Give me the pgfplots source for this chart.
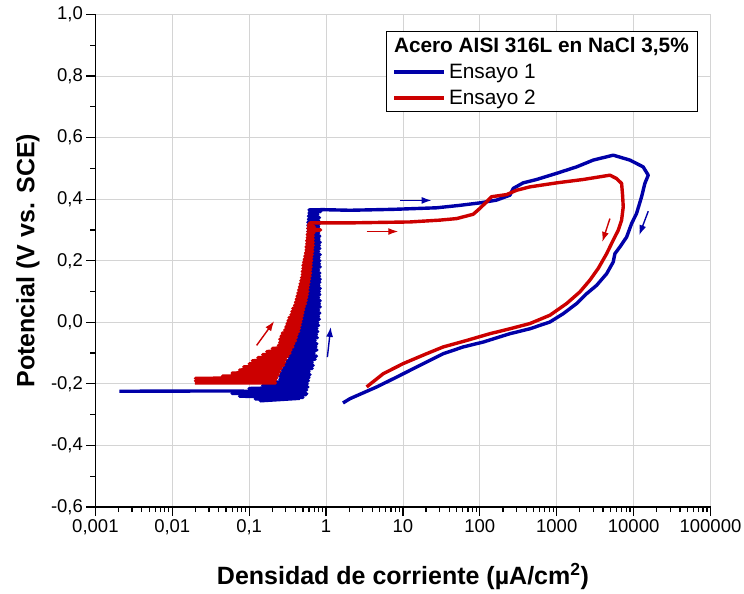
\documentclass[border=0pt]{standalone}
\usepackage{fontspec}
\setmainfont{Liberation Sans}
\usepackage{pgfplots}
\pgfplotsset{compat=1.18}
\usetikzlibrary{arrows.meta}
\definecolor{cblue}{RGB}{0,0,168}
\definecolor{cred}{RGB}{204,0,0}
\definecolor{cgrid}{RGB}{212,212,212}
\begin{document}
\begin{tikzpicture}
\begin{axis}[
  scale only axis, width=615.1pt, height=492.5pt,
  xmode=log, xmin=0.001, xmax=100000, ymin=-0.6, ymax=1.0,
  axis x line*=bottom, axis y line*=left,
  axis line style={line width=1.6pt, -},
  xtick={0.001,0.01,0.1,1,10,100,1000,10000,100000},
  xticklabels={{0,001},{0,01},{0,1},1,10,100,1000,10000,100000},
  minor xtick={0.002,0.003,0.004,0.005,0.006,0.007,0.008,0.009,
    0.02,0.03,0.04,0.05,0.06,0.07,0.08,0.09,
    0.2,0.3,0.4,0.5,0.6,0.7,0.8,0.9,
    2,3,4,5,6,7,8,9,20,30,40,50,60,70,80,90,
    200,300,400,500,600,700,800,900,2000,3000,4000,5000,6000,7000,8000,9000,
    20000,30000,40000,50000,60000,70000,80000,90000},
  ytick={-0.6,-0.4,-0.2,0,0.2,0.4,0.6,0.8,1.0},
  yticklabels={{-0,6},{-0,4},{-0,2},{0,0},{0,2},{0,4},{0,6},{0,8},{1,0}},
  minor ytick={-0.5,-0.3,-0.1,0.1,0.3,0.5,0.7,0.9},
  tick align=outside,
  major tick length=9pt, minor tick length=5pt,
  every tick/.style={black, line width=1.2pt},
  xmajorgrids, ymajorgrids,
  major grid style={cgrid, line width=0.9pt},
  ticklabel style={font=\fontsize{18.5}{22}\selectfont},
  xlabel={Densidad de corriente (µA/cm\textsuperscript{2})},
  ylabel={Potencial (V vs. SCE)},
  label style={font=\fontsize{25}{30}\selectfont\bfseries},
  xlabel style={at={(axis description cs:0.5,-0.142)}, anchor=center},
  ylabel style={at={(axis description cs:-0.1096,0.5)}, anchor=center},
  legend style={at={(0.98,0.9665)}, anchor=north east, draw=black, line width=0.8pt,
    font=\fontsize{20.8}{24}\selectfont, inner xsep=6pt, inner ysep=4pt, row sep=6pt,
    nodes={inner xsep=3pt}},
  legend cell align=left,
  legend image code/.code={\draw[#1, line width=3.6pt] (0pt,0pt) -- (50pt,0pt);},
]
\coordinate (bl) at (rel axis cs:0,0);
\coordinate (tr) at (rel axis cs:1,1);
\addlegendimage{empty legend}
\addlegendentry{\hspace{-55pt}\textbf{Acero AISI 316L en NaCl 3,5\%}}
% Ensayo 1
\addplot[cblue, line width=3.4pt, line join=round] coordinates {
(0.00205,-0.224) (0.045,-0.223) (0.50,-0.226) (0.06,-0.231) (0.55,-0.235)
(0.075,-0.240) (0.50,-0.244) (0.12,-0.249) (0.45,-0.247) (0.14,-0.255)
(0.30,-0.243) (0.56,-0.232) (0.08,-0.228) (0.56,-0.220) (0.10,-0.215)
(0.58,-0.210) (0.15,-0.205) (0.57,-0.200) (0.20,-0.195) (0.59,-0.190)
(0.25,-0.185) (0.60,-0.180) (0.25,-0.175) (0.62,-0.170) (0.26,-0.165)
(0.60,-0.160) (0.27,-0.155) (0.66,-0.150) (0.28,-0.145) (0.68,-0.140)
(0.29,-0.135) (0.66,-0.130) (0.31,-0.125) (0.72,-0.120) (0.33,-0.115)
(0.75,-0.110) (0.34,-0.105) (0.70,-0.100) (0.36,-0.095) (0.76,-0.090)
(0.37,-0.085) (0.74,-0.080) (0.39,-0.075) (0.76,-0.070) (0.40,-0.065)
(0.72,-0.060) (0.41,-0.055) (0.77,-0.050) (0.42,-0.045) (0.75,-0.040)
(0.44,-0.035) (0.78,-0.030) (0.45,-0.025) (0.76,-0.020) (0.45,-0.015)
(0.80,-0.010) (0.46,-0.005) (0.78,0.000) (0.47,0.005) (0.82,0.010)
(0.48,0.015) (0.80,0.020) (0.49,0.025) (0.83,0.030) (0.50,0.035)
(0.80,0.040) (0.50,0.045) (0.84,0.050) (0.51,0.055) (0.82,0.060)
(0.51,0.065) (0.84,0.070) (0.52,0.075) (0.80,0.080) (0.52,0.085)
(0.83,0.090) (0.53,0.095) (0.82,0.100) (0.53,0.105) (0.84,0.110)
(0.54,0.115) (0.81,0.120) (0.54,0.125) (0.83,0.130) (0.55,0.135)
(0.84,0.140) (0.55,0.145) (0.82,0.150) (0.55,0.155) (0.83,0.160)
(0.56,0.165) (0.80,0.170) (0.56,0.175) (0.84,0.180) (0.56,0.185)
(0.82,0.190) (0.56,0.195) (0.83,0.200) (0.57,0.205) (0.81,0.210)
(0.57,0.215) (0.84,0.220) (0.57,0.225) (0.80,0.230) (0.57,0.235)
(0.83,0.240) (0.57,0.245) (0.82,0.250) (0.58,0.255) (0.84,0.260)
(0.58,0.265) (0.81,0.270) (0.58,0.275) (0.83,0.280) (0.58,0.285)
(0.80,0.290) (0.58,0.295) (0.82,0.300) (0.58,0.305) (0.80,0.310)
(0.58,0.315) (0.82,0.320) (0.58,0.325) (0.80,0.330) (0.59,0.335)
(0.82,0.340) (0.59,0.345) (0.78,0.350) (0.60,0.355) (0.85,0.360)
(0.60,0.365) (0.9,0.366) (2.05,0.364) (7.48,0.367) (27.4,0.372)
(55.1,0.380) (100,0.388) (165,0.397) (246,0.413) (272,0.435)
(366,0.453) (548,0.464) (997,0.484) (1815,0.505) (2985,0.527)
(5430,0.543) (8950,0.527) (13300,0.505) (15500,0.478) (14000,0.451)
(12700,0.408) (10900,0.353) (9420,0.321) (8110,0.277) (6640,0.245)
(5710,0.223) (5430,0.196) (4460,0.158) (3300,0.120) (2450,0.093)
(1815,0.061) (1215,0.028) (815,0.001) (448,-0.021) (246,-0.037)
(111,-0.064) (60.8,-0.080) (33.4,-0.102) (15.1,-0.145) (8.28,-0.178)
(4.55,-0.210) (2.05,-0.248) (1.66,-0.262)
};
\addlegendentry{Ensayo 1}
% Ensayo 2
\addplot[cred, line width=3.4pt, line join=round] coordinates {
(0.0197,-0.197) (0.22,-0.197) (0.020,-0.190) (0.22,-0.188) (0.020,-0.182)
(0.23,-0.180) (0.045,-0.175) (0.24,-0.170) (0.060,-0.165) (0.25,-0.160)
(0.075,-0.155) (0.26,-0.150) (0.085,-0.145) (0.28,-0.140) (0.10,-0.135)
(0.29,-0.130) (0.11,-0.125) (0.30,-0.120) (0.13,-0.115) (0.32,-0.110)
(0.15,-0.105) (0.34,-0.100) (0.17,-0.095) (0.35,-0.090) (0.20,-0.085)
(0.37,-0.080) (0.24,-0.075) (0.38,-0.070) (0.25,-0.065) (0.40,-0.060)
(0.25,-0.055) (0.41,-0.050) (0.26,-0.045) (0.42,-0.040) (0.27,-0.035)
(0.44,-0.030) (0.29,-0.025) (0.45,-0.020) (0.30,-0.015) (0.46,-0.010)
(0.31,-0.005) (0.47,0.000) (0.32,0.005) (0.48,0.010) (0.33,0.015)
(0.49,0.020) (0.35,0.025) (0.50,0.030) (0.36,0.035) (0.51,0.040)
(0.37,0.045) (0.52,0.050) (0.39,0.055) (0.54,0.060) (0.40,0.065)
(0.55,0.070) (0.41,0.075) (0.56,0.080) (0.42,0.085) (0.57,0.090)
(0.43,0.095) (0.58,0.100) (0.44,0.105) (0.58,0.110) (0.45,0.115)
(0.59,0.120) (0.46,0.125) (0.60,0.130) (0.47,0.135) (0.61,0.140)
(0.48,0.145) (0.62,0.150) (0.49,0.155) (0.63,0.160) (0.49,0.165)
(0.63,0.170) (0.50,0.175) (0.64,0.180) (0.50,0.185) (0.64,0.190)
(0.51,0.195) (0.65,0.200) (0.52,0.205) (0.65,0.210) (0.53,0.215)
(0.66,0.220) (0.54,0.225) (0.67,0.230) (0.55,0.235) (0.67,0.240)
(0.55,0.245) (0.68,0.250) (0.56,0.255) (0.68,0.260) (0.56,0.265)
(0.68,0.270) (0.57,0.275) (0.68,0.280) (0.57,0.285) (0.69,0.290)
(0.58,0.295) (0.85,0.300) (0.58,0.305) (0.70,0.310) (0.59,0.315)
(0.62,0.323) (2.05,0.323) (12.3,0.326) (30.3,0.332) (49.9,0.337)
(82,0.351) (100,0.370) (122,0.391) (142,0.408) (223,0.415)
(301,0.429) (448,0.440) (997,0.453) (2210,0.464) (4920,0.478)
(6010,0.467) (6980,0.451) (7190,0.413) (7330,0.375) (6980,0.332)
(6310,0.299) (5430,0.267) (4460,0.223) (3465,0.175) (2700,0.137)
(2005,0.099) (1345,0.061) (815,0.023) (448,-0.004) (246,-0.021)
(135,-0.037) (67.3,-0.059) (33.4,-0.080) (20.3,-0.102) (10.1,-0.134)
(5.54,-0.167) (3.37,-0.210)
};
\addlegendentry{Ensayo 2}
% direction arrows
\addplot[cblue, line width=1.4pt, -{Latex[length=10pt,width=7pt]}, forget plot] coordinates {(9.14,0.396) (23.6,0.396)};
\addplot[cred, line width=1.4pt, -{Latex[length=10pt,width=7pt]}, forget plot] coordinates {(3.37,0.295) (8.69,0.295)};
\addplot[cred, line width=1.4pt, -{Latex[length=10pt,width=7pt]}, forget plot] coordinates {(0.125,-0.075) (0.212,0.004)};
\addplot[cblue, line width=1.4pt, -{Latex[length=10pt,width=7pt]}, forget plot] coordinates {(1.04,-0.113) (1.15,-0.015)};
\addplot[cred, line width=1.4pt, -{Latex[length=10pt,width=7pt]}, forget plot] coordinates {(4920,0.337) (3910,0.261)};
\addplot[cblue, line width=1.4pt, -{Latex[length=10pt,width=7pt]}, forget plot] coordinates {(15500,0.361) (11830,0.283)};
\end{axis}
\pgfresetboundingbox
\path ([shift={(-95.4pt,-87pt)}]bl) rectangle ([shift={(33.5pt,14.5pt)}]tr);
\end{tikzpicture}
\end{document}
